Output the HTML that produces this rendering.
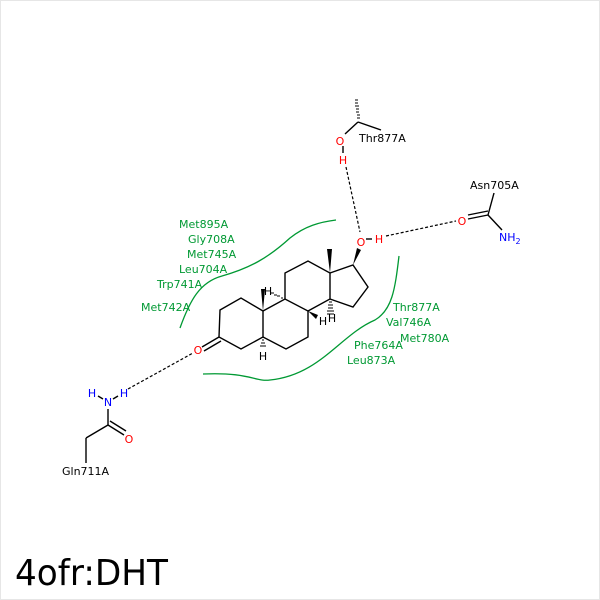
<!DOCTYPE html>
<html><head><style>body{margin:0;background:#fff}svg{display:block}</style></head><body>
<svg width="600" height="600" viewBox="0 0 600 600" xmlns="http://www.w3.org/2000/svg" font-family="DejaVu Sans, Liberation Sans, sans-serif">
<rect x="0.5" y="0.5" width="599" height="599" fill="#fff" stroke="#e6e6e6"/>
<g fill="none" stroke="#009933" stroke-width="1.3">
<path d="M180,328 C190,300 200,282 222,276 C250,268 268,258 290,238 C305,226 320,222 336,220"/>
<path d="M399,256 C395,290 392,310 375,320 C340,335 320,375 270,380 C255,382 250,372 203,374"/>
</g>
<g stroke="#000" stroke-width="1.4" fill="none">
<path d="M220,310 L241,298 L263,311 L263,337 L241,349 L219,337 Z"/>
<path d="M263,311 L285,299 L308,311 L308,337 L286,349 L263,337"/>
<path d="M285,299 L285,273 L308,261 L330,273 L330,299 L308,311"/>
<path d="M330,273 L353,265 L368,287 L353,307 L330,299"/>
<line x1="219" y1="337" x2="202" y2="347"/><line x1="221" y1="341" x2="204" y2="351"/>
<line x1="358" y1="122" x2="345" y2="134"/><line x1="358" y1="122" x2="381" y2="130"/>
<line x1="343" y1="146" x2="343" y2="153"/>
<line x1="366" y1="239" x2="372" y2="239"/>
<line x1="488" y1="215" x2="494" y2="193"/><line x1="488" y1="215" x2="468" y2="219"/><line x1="488" y1="211" x2="468" y2="215"/>
<line x1="488" y1="215" x2="502" y2="230"/>
<line x1="108" y1="409" x2="108" y2="425"/><line x1="108" y1="425" x2="86" y2="438"/><line x1="86" y1="438" x2="86" y2="463"/>
<line x1="108" y1="425" x2="124" y2="435"/><line x1="110" y1="421" x2="126" y2="431"/>
<line x1="98" y1="396" x2="103" y2="399"/><line x1="118" y1="396" x2="113" y2="399"/>
</g>
<g fill="#000">
<polygon points="330,273 327,249 332,249"/>
<polygon points="353,265 357,248 361,250"/>
<polygon points="263,311 261,289 265,289"/>
<polygon points="308,311 318,315 316,319"/>
</g>
<g stroke="#000" stroke-width="1">
<path d="M355,100h3M355,103h3M355,106h4M356,109h3M356,112h3M357,115h3M357,118h3"/>
<path d="M283,298h-2M280,296h-3M277,295h-3M274,293h-3"/>
<path d="M329,302h3M328,305h5M328,308h5M327,311h7M327,314h7"/>
<path d="M262,340h2M261,343h4M260,346h6"/>
</g>
<g stroke="#000" stroke-width="1.2" stroke-dasharray="3,2" fill="none">
<line x1="346" y1="167" x2="360" y2="232"/>
<line x1="386" y1="236" x2="456" y2="221"/>
<line x1="128" y1="389" x2="193" y2="353"/>
</g>
<g font-size="11">
<g fill="#f00">
<text x="198" y="354" text-anchor="middle">O</text>
<text x="340" y="145" text-anchor="middle">O</text>
<text x="343" y="164" text-anchor="middle">H</text>
<text x="361" y="246" text-anchor="middle">O</text>
<text x="379" y="243" text-anchor="middle">H</text>
<text x="462" y="225" text-anchor="middle">O</text>
<text x="129" y="443" text-anchor="middle">O</text>
</g>
<g fill="#00f">
<text x="108" y="406" text-anchor="middle">N</text>
<text x="92" y="397" text-anchor="middle">H</text>
<text x="124" y="397" text-anchor="middle">H</text>
<text x="499" y="241">NH<tspan font-size="8" dy="3">2</tspan></text>
</g>
<g fill="#000">
<text x="359" y="142">Thr877A</text>
<text x="470" y="189">Asn705A</text>
<text x="62" y="475">Gln711A</text>
<text x="268" y="295" text-anchor="middle">H</text>
<text x="323" y="325" text-anchor="middle">H</text>
<text x="332" y="322" text-anchor="middle">H</text>
<text x="263" y="360" text-anchor="middle">H</text>
</g>
<g fill="#009933">
<text x="179" y="228">Met895A</text>
<text x="188" y="243">Gly708A</text>
<text x="187" y="258">Met745A</text>
<text x="179" y="273">Leu704A</text>
<text x="157" y="288">Trp741A</text>
<text x="141" y="311">Met742A</text>
<text x="393" y="311">Thr877A</text>
<text x="386" y="326">Val746A</text>
<text x="400" y="342">Met780A</text>
<text x="354" y="349">Phe764A</text>
<text x="347" y="364">Leu873A</text>
</g>
</g>
<text x="15" y="585" font-size="36" fill="#000" textLength="153" lengthAdjust="spacingAndGlyphs">4ofr:DHT</text>
</svg>
</body></html>
